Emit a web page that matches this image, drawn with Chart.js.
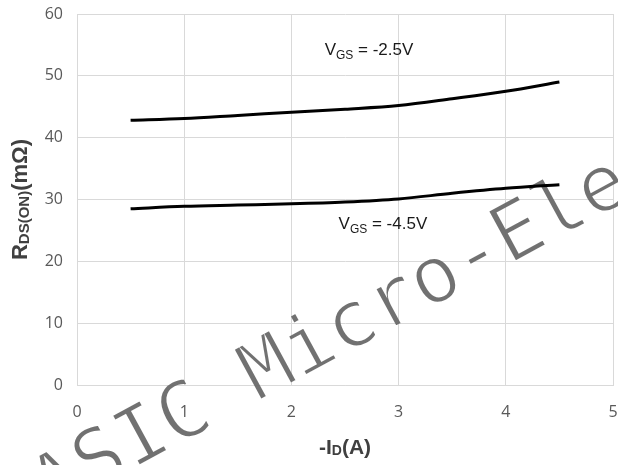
<!DOCTYPE html>
<html>
<head>
<meta charset="utf-8">
<script src="https://cdn.jsdelivr.net/npm/chart.js@4.4.1/dist/chart.umd.min.js"></script>
<style>
  html, body { margin: 0; padding: 0; background: #ffffff; }
  #wrap { width: 618px; height: 465px; }
</style>
</head>
<body>
<div id="wrap"><canvas id="c" width="618" height="465"></canvas></div>
<script>
// -ID (A) sample points
const currentA = [0.5, 1, 1.5, 2, 2.5, 3, 3.5, 4, 4.5];
// RDS(ON) in mOhm for each gate drive
const rdsVgs25 = [42.8, 43.1, 43.6, 44.1, 44.6, 45.2, 46.3, 47.5, 49.0];
const rdsVgs45 = [28.5, 28.9, 29.1, 29.3, 29.6, 30.1, 31.0, 31.8, 32.4];
// axis tick values
const xTicks = [0, 1, 2, 3, 4, 5];
const yTicks = [0, 10, 20, 30, 40, 50, 60];
// curve labels: [main, subscript, rest], anchored at (x, y) in data units
const curveLabels = [
  { parts: ['V', 'GS', ' = -2.5V'], x: 2.31, y: 53.3 },
  { parts: ['V', 'GS', ' = -4.5V'], x: 2.44, y: 25.3 }
];
const watermarkText = 'ASIC Micro-Elec';

const GRID = '#d9d9d9';

// draws a run of [text, font, baselineShift] pieces starting at x
function drawRuns(ctx, runs, x, y, align) {
  let total = 0;
  runs.forEach(r => { ctx.font = r[1]; total += ctx.measureText(r[0]).width; });
  let cx = align === 'center' ? x - total / 2 : x;
  runs.forEach(r => {
    ctx.font = r[1];
    ctx.fillText(r[0], cx, y + (r[2] || 0));
    cx += ctx.measureText(r[0]).width;
  });
}

// thin diagonal watermark, rendered on its own layer then composited
const watermarkPlugin = {
  id: 'watermark',
  beforeDatasetsDraw(chart) {
    const w = chart.width, h = chart.height;
    const layer = document.createElement('canvas');
    layer.width = w; layer.height = h;
    const c2 = layer.getContext('2d');
    c2.translate(49, 515);
    c2.rotate(-28.5 * Math.PI / 180);
    c2.font = '79px "DejaVu Sans Mono"';
    c2.textBaseline = 'alphabetic';
    c2.textAlign = 'left';
    c2.fillStyle = 'rgba(105,105,105,0.95)';
    c2.fillText(watermarkText, 0, 0);
    // shave the glyph edges for a lighter stroke
    c2.globalCompositeOperation = 'destination-out';
    c2.lineWidth = 2.2;
    c2.strokeStyle = '#000';
    c2.strokeText(watermarkText, 0, 0);
    chart.ctx.drawImage(layer, 0, 0);
  }
};

const textPlugin = {
  id: 'texts',
  afterDraw(chart) {
    const ctx = chart.ctx;
    const xs = chart.scales.x, ys = chart.scales.y;
    const area = chart.chartArea;
    ctx.save();
    ctx.textAlign = 'left';
    ctx.textBaseline = 'alphabetic';

    // curve labels
    ctx.fillStyle = '#1a1a1a';
    curveLabels.forEach(l => {
      drawRuns(ctx, [
        [l.parts[0], '17px "Liberation Sans"', 0],
        [l.parts[1], '12px "Liberation Sans"', 4],
        [l.parts[2], '17px "Liberation Sans"', 0]
      ], xs.getPixelForValue(l.x), ys.getPixelForValue(l.y), 'left');
    });

    // x axis title
    ctx.fillStyle = '#404040';
    drawRuns(ctx, [
      ['-I', 'bold 21px "Liberation Sans"', 0],
      ['D', 'bold 14px "Liberation Sans"', 1],
      ['(A)', 'bold 21px "Liberation Sans"', 0]
    ], (area.left + area.right) / 2, 454, 'center');

    // y axis title
    ctx.translate(27, (area.top + area.bottom) / 2);
    ctx.rotate(-Math.PI / 2);
    drawRuns(ctx, [
      ['R', 'bold 22px "Liberation Sans"', 0],
      ['DS(ON)', 'bold 15px "Liberation Sans"', 2],
      ['(mΩ)', 'bold 22px "Liberation Sans"', 0]
    ], 0, 0, 'center');
    ctx.restore();
  }
};

function noPad(s) {
  s.paddingLeft = 0; s.paddingRight = 0; s.paddingTop = 0; s.paddingBottom = 0;
}

new Chart(document.getElementById('c'), {
  type: 'line',
  data: {
    datasets: [
      {
        label: 'VGS = -2.5V',
        data: currentA.map((x, i) => ({ x, y: rdsVgs25[i] })),
        borderColor: '#000000',
        borderWidth: 3,
        pointRadius: 0,
        cubicInterpolationMode: 'monotone',
        fill: false
      },
      {
        label: 'VGS = -4.5V',
        data: currentA.map((x, i) => ({ x, y: rdsVgs45[i] })),
        borderColor: '#000000',
        borderWidth: 3,
        pointRadius: 0,
        cubicInterpolationMode: 'monotone',
        fill: false
      }
    ]
  },
  options: {
    responsive: false,
    animation: false,
    devicePixelRatio: 1,
    layout: { padding: { left: 0, right: 5, top: 14, bottom: 0 } },
    plugins: { legend: { display: false }, tooltip: { enabled: false } },
    scales: {
      x: {
        type: 'linear',
        min: xTicks[0],
        max: xTicks[xTicks.length - 1],
        afterBuildTicks(s) { s.ticks = xTicks.map(v => ({ value: v })); },
        ticks: {
          color: '#595959',
          font: { family: '"Open Sans"', size: 16 },
          padding: 18,
          maxRotation: 0
        },
        grid: { color: GRID, lineWidth: 1, drawTicks: false },
        border: { color: GRID, width: 1 },
        afterFit(s) { s.height = 80; noPad(s); }
      },
      y: {
        min: yTicks[0],
        max: yTicks[yTicks.length - 1],
        afterBuildTicks(s) { s.ticks = yTicks.map(v => ({ value: v })); },
        ticks: {
          color: '#595959',
          font: { family: '"Open Sans"', size: 16 },
          padding: 14
        },
        grid: { color: GRID, lineWidth: 1, drawTicks: false },
        border: { color: GRID, width: 1 },
        afterFit(s) { s.width = 77; noPad(s); }
      }
    }
  },
  plugins: [watermarkPlugin, textPlugin]
});
</script>
</body>
</html>
